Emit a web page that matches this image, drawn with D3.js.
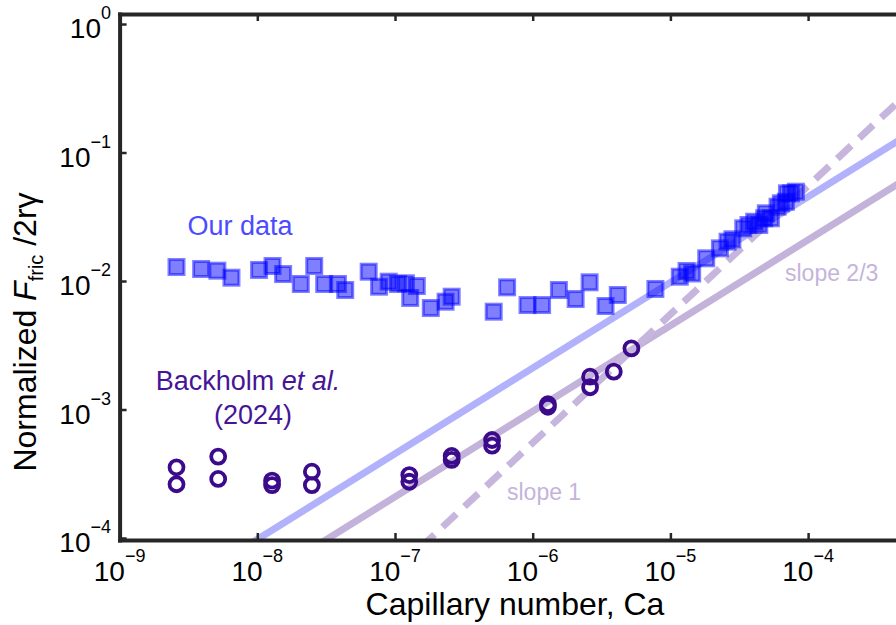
<!DOCTYPE html>
<html><head><meta charset="utf-8">
<script src="https://cdn.jsdelivr.net/npm/d3@7"></script>
<style>body{margin:0;background:#fff;overflow:hidden} svg{display:block}</style>
</head><body>
<svg id="c" width="896" height="625"></svg>
<script>
// ---- data ----
const ourCa = [2.59e-9,3.91e-9,5.13e-9,6.49e-9,1.03e-8,1.29e-8,1.54e-8,2.07e-8,2.59e-8,3.06e-8,3.85e-8,4.35e-8,6.44e-8,7.66e-8,9.0e-8,1.05e-7,1.20e-7,1.44e-7,1.29e-7,1.82e-7,2.33e-7,2.58e-7,5.21e-7,6.52e-7,9.17e-7,1.17e-6,1.55e-6,2.05e-6,2.59e-6,3.38e-6,4.15e-6,7.78e-6,1.17e-5,1.31e-5,1.44e-5,1.82e-5,2.29e-5,2.60e-5,2.82e-5,3.38e-5,3.69e-5,4.06e-5,4.42e-5,4.80e-5,4.93e-5,5.37e-5,6.00e-5,6.34e-5,6.89e-5,7.02e-5,7.50e-5,8.15e-5];
const ourF = [0.01285,0.01240,0.01203,0.01061,0.01219,0.01309,0.01133,0.00948,0.01309,0.00948,0.00948,0.00851,0.01181,0.00903,0.00988,0.00948,0.0096,0.00914,0.00738,0.00616,0.00690,0.00755,0.00577,0.00893,0.00650,0.00650,0.00851,0.00724,0.00977,0.00639,0.00778,0.00867,0.01080,0.01197,0.01144,0.01502,0.01796,0.02023,0.02112,0.02571,0.02728,0.02893,0.02728,0.03077,0.03365,0.03077,0.03787,0.04025,0.04140,0.04812,0.04812,0.04955];
const backCa = [2.59e-9,2.59e-9,5.20e-9,5.20e-9,1.28e-8,1.28e-8,2.49e-8,2.49e-8,1.27e-7,1.27e-7,2.58e-7,2.58e-7,5.07e-7,5.07e-7,1.29e-6,1.29e-6,2.61e-6,2.61e-6,3.88e-6,5.21e-6];
const backF = [3.55e-4,2.62e-4,4.30e-4,2.88e-4,2.80e-4,2.58e-4,3.28e-4,2.58e-4,3.09e-4,2.74e-4,4.35e-4,4.05e-4,5.79e-4,5.23e-4,1.10e-3,1.05e-3,1.80e-3,1.49e-3,1.97e-3,2.99e-3];
// reference power laws F = coef * Ca^slope
const fitCoef = [21, 9.7, 550];
const fitSlope = [2/3, 2/3, 1];
const fitColor = ["#b2b2fc", "#c3b2da", "#c6b6de"];
const fitDash = [null, null, "19,11"];
const xTickExps = [-9,-8,-7,-6,-5,-4,-3];
const xLabelExps = [-9,-8,-7,-6,-5,-4];
const yTickExps = [0,-1,-2,-3,-4];
const xLabel = "Capillary number, Ca";

// ---- scales ----
const FONT = "'Liberation Sans', Arial, Helvetica, sans-serif";
const x = d3.scaleLog().domain([1e-9, 1e-3]).range([119.6, 945.8]);
const y = d3.scaleLog().domain([Math.pow(10,-4.0156), Math.pow(10,0.078)]).range([540, 14]);
const svg = d3.select("#c").style("font-family", FONT);

svg.append("defs").append("clipPath").attr("id","plot")
  .append("rect").attr("x",119.6).attr("y",14).attr("width",830).attr("height",526);

// ---- reference lines ----
const lineG = svg.append("g").attr("clip-path","url(#plot)");
const xs = [1e-10, 1e-2];
fitCoef.forEach((c,i)=>{
  const pts = xs.map(v=>[x(v), y(c*Math.pow(v, fitSlope[i]))]);
  lineG.append("path").attr("d", d3.line()(pts))
    .attr("fill","none").attr("stroke",fitColor[i]).attr("stroke-width",7)
    .attr("stroke-dasharray", fitDash[i]);
});

// ---- markers ----
const mG = svg.append("g").attr("clip-path","url(#plot)");
mG.selectAll("rect.sq").data(ourCa.map((c,i)=>[c,ourF[i]])).join("rect")
  .attr("class","sq")
  .attr("x",d=>x(d[0])-7.5).attr("y",d=>y(d[1])-7.5)
  .attr("width",15).attr("height",15)
  .attr("fill","rgba(0,0,255,0.5)").attr("stroke","rgba(0,0,255,0.5)").attr("stroke-width",3);
mG.selectAll("circle.bk").data(backCa.map((c,i)=>[c,backF[i]])).join("circle")
  .attr("class","bk")
  .attr("cx",d=>x(d[0])).attr("cy",d=>y(d[1])).attr("r",7)
  .attr("fill","none").attr("stroke","#3b0b8c").attr("stroke-width",3.8);

// ---- axes ----
const AX = "#262626";
const gl = svg.append("g").attr("transform","translate(119.6,0)")
  .call(d3.axisLeft(y).tickValues(yTickExps.map(e=>Math.pow(10,e))).tickSize(-7).tickSizeOuter(0).tickFormat(""));
const gb = svg.append("g").attr("transform","translate(0,540)")
  .call(d3.axisBottom(x).tickValues(xTickExps.map(e=>Math.pow(10,e))).tickSize(-7).tickSizeOuter(0).tickFormat(""));
const gt = svg.append("g").attr("transform","translate(0,14)")
  .call(d3.axisTop(x).tickValues(xTickExps.map(e=>Math.pow(10,e))).tickSize(-7).tickSizeOuter(0).tickFormat(""));
[gl,gb,gt].forEach(g=>{
  g.select(".domain").attr("stroke",AX).attr("stroke-width",4).attr("stroke-linecap","square");
  g.selectAll(".tick line").attr("stroke",AX).attr("stroke-width",2.5);
});

// tick labels
xLabelExps.forEach(e=>{
  const t = svg.append("text").attr("x", x(Math.pow(10,e))).attr("y", 581)
    .attr("text-anchor","middle").attr("fill","#000");
  t.append("tspan").attr("font-size",28).text("10");
  t.append("tspan").attr("font-size",18).attr("dy",-19).text("\u2212"+(-e));
});
yTickExps.forEach(e=>{
  const t = svg.append("text").attr("x", 111).attr("y", y(Math.pow(10,e))+14)
    .attr("text-anchor","end").attr("fill","#000");
  t.append("tspan").attr("font-size",28).text("10");
  t.append("tspan").attr("font-size",18).attr("dy",-19).text(e===0 ? "0" : "\u2212"+(-e));
});

// axis titles
svg.append("text").attr("x",515).attr("y",615).attr("text-anchor","middle")
  .attr("font-size",32).attr("fill","#000").text(xLabel);
const yl = svg.append("text").attr("transform","translate(36,332) rotate(-90)")
  .attr("text-anchor","middle").attr("font-size",32).attr("fill","#000");
yl.append("tspan").text("Normalized ");
yl.append("tspan").attr("font-style","italic").text("F");
yl.append("tspan").attr("font-size",20).attr("dy",7).text("fric");
yl.append("tspan").attr("dy",-7).text(" /2r\u03b3");

// annotations
svg.append("text").attr("x",240).attr("y",235).attr("text-anchor","middle")
  .attr("font-size",27).attr("fill","#4b4bff").text("Our data");
const bk = svg.append("text").attr("x",248).attr("y",390).attr("text-anchor","middle")
  .attr("font-size",27).attr("fill","#451597");
bk.append("tspan").text("Backholm ");
bk.append("tspan").attr("font-style","italic").text("et al.");
svg.append("text").attr("x",253).attr("y",424).attr("text-anchor","middle")
  .attr("font-size",27).attr("fill","#451597").text("(2024)");
svg.append("text").attr("x",785).attr("y",281).attr("font-size",23).attr("fill","#c4b4dc").text("slope 2/3");
svg.append("text").attr("x",507).attr("y",500).attr("font-size",23).attr("fill","#c4b4dc").text("slope 1");
</script>
</body></html>
